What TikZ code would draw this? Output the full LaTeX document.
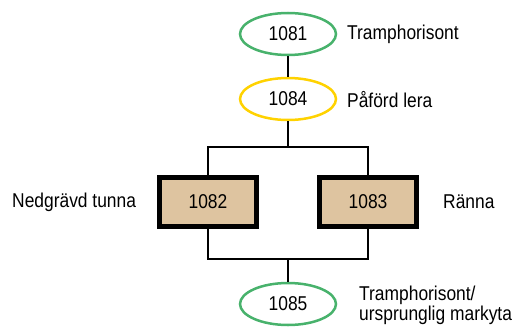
\documentclass[tikz,border=0pt]{standalone}
\usepackage{fontspec}
\setmainfont{Liberation Sans}[FakeStretch=0.87]
\usetikzlibrary{shapes.geometric}
\definecolor{egreen}{RGB}{72,178,108}
\definecolor{eyellow}{RGB}{255,210,0}
\definecolor{tan}{RGB}{222,196,160}
\tikzset{
  unit/.style={ellipse, draw, line width=2.5pt, minimum width=96pt, minimum height=42pt, inner sep=0pt, font=\fontsize{20}{22}\selectfont},
  cut/.style={rectangle, draw, fill=tan, line width=5pt, minimum width=97pt, minimum height=49pt, inner sep=0pt, font=\fontsize{20}{22}\selectfont},
  lbl/.style={anchor=west, inner sep=0pt, font=\fontsize{20}{22}\selectfont, align=left},
  conn/.style={line width=2.5pt}
}
\begin{document}
\begin{tikzpicture}[x=1pt,y=-1pt]
\useasboundingbox (0,0) rectangle (513,329);
\node[unit, egreen] (e81) at (288,34) {\textcolor{black}{1081}};
\node[unit, eyellow] (e84) at (288,99) {\textcolor{black}{1084}};
\node[cut] (b82) at (208,202) {1082};
\node[cut] (b83) at (368,202) {1083};
\node[unit, egreen] (e85) at (288,304) {\textcolor{black}{1085}};
\coordinate (top) at (288,147);
\coordinate (bot) at (288,259);
\draw[conn] (e81.south) -- (e84.north);
\draw[conn] (e84.south) -- (top);
\draw[conn] (b82.north) |- (top) -| (b83.north);
\draw[conn] (b82.south) |- (bot) -| (b83.south);
\draw[conn] (bot) -- (e85.north);
\node[lbl] (l81) at (347,34) {Tramphorisont};
\node[lbl] (l84) at (347,100) {Påförd lera};
\node[lbl] (l82) at (12,202) {Nedgrävd tunna};
\node[lbl] (l83) at (443,202) {Ränna};
\node[lbl, anchor=west] (l85) at (359,305) {Tramphorisont/\\[-2pt]ursprunglig markyta};
\end{tikzpicture}
\end{document}
